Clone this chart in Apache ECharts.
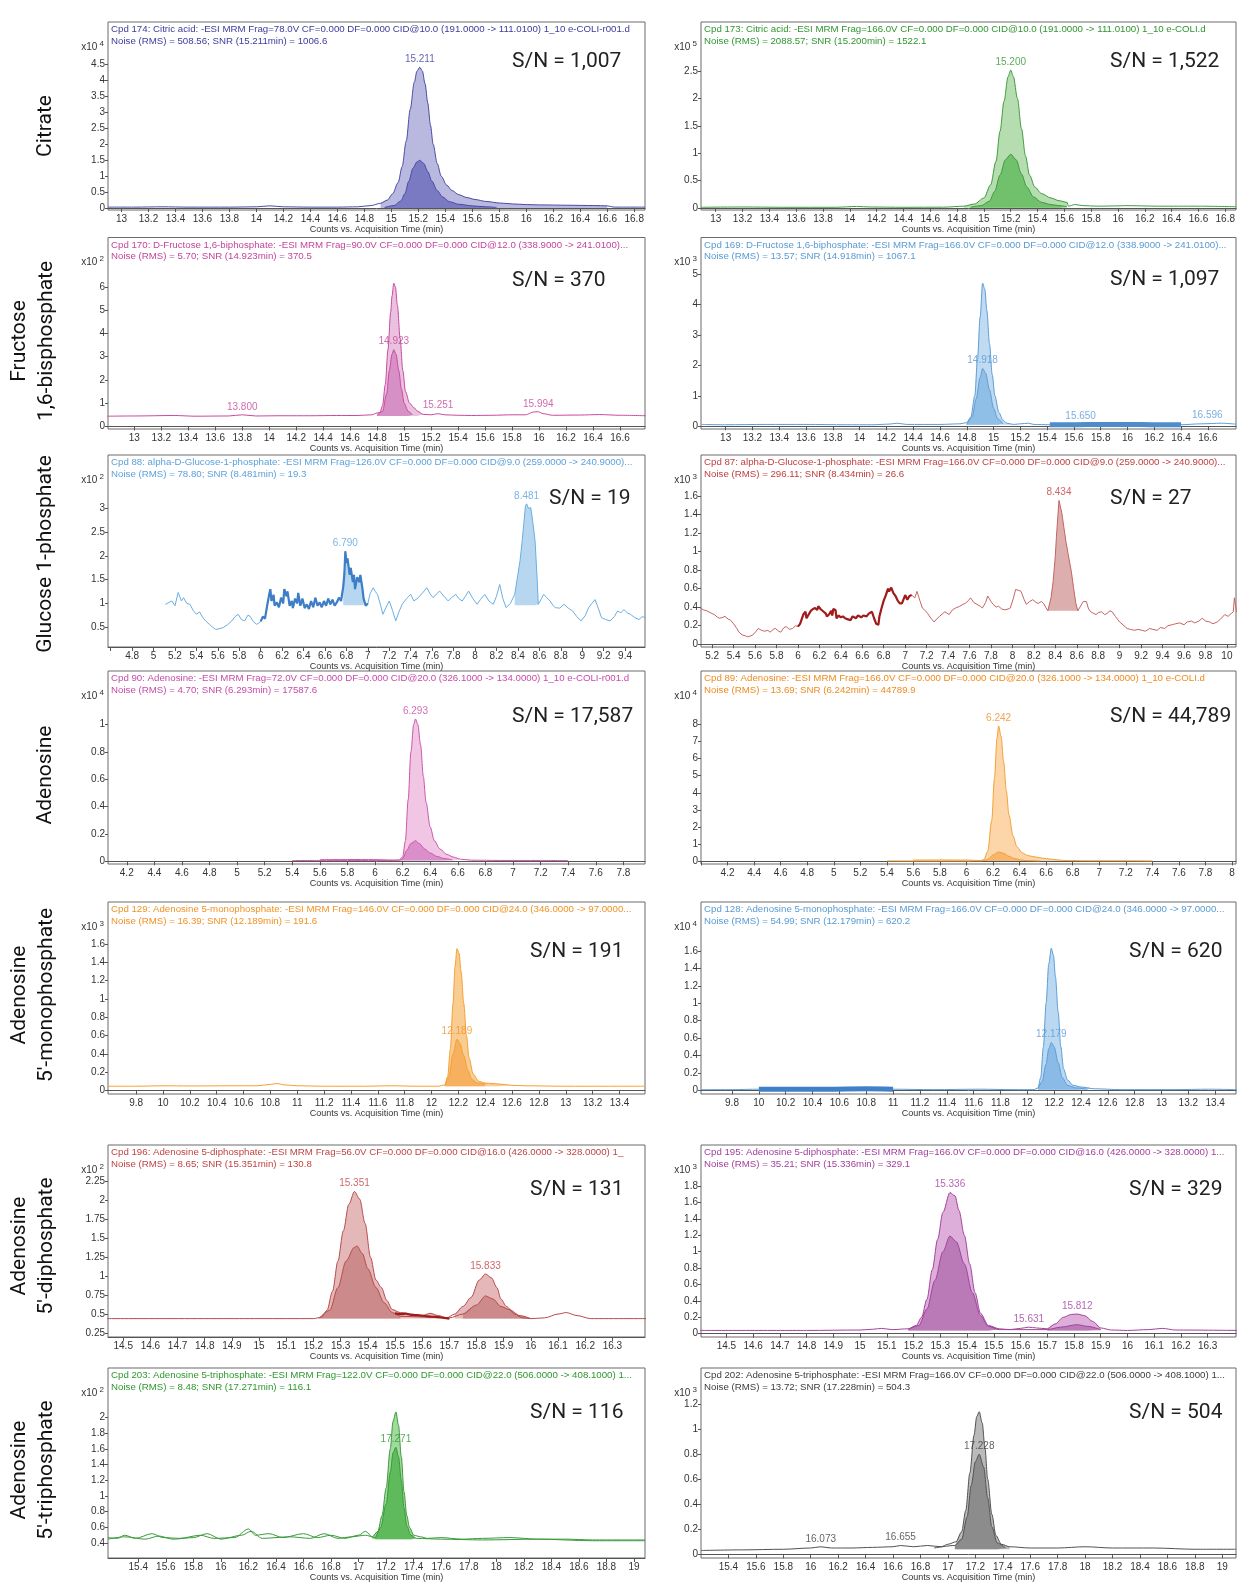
<!DOCTYPE html>
<html>
<head>
<meta charset="utf-8">
<script src="https://cdn.jsdelivr.net/npm/echarts/dist/echarts.min.js"></script>
<style>
  html, body { margin: 0; padding: 0; background: #ffffff; }
  #chart { width: 1241px; height: 1585px; }
</style>
</head>
<body>
<div id="chart"></div>
<script>
// ---------- tick values ----------
const xt_cit = [13,13.2,13.4,13.6,13.8,14,14.2,14.4,14.6,14.8,15,15.2,15.4,15.6,15.8,16,16.2,16.4,16.6,16.8];
const xt_fbp = [13,13.2,13.4,13.6,13.8,14,14.2,14.4,14.6,14.8,15,15.2,15.4,15.6,15.8,16,16.2,16.4,16.6];
const xt_g1pL_marks = [4.6,4.8,5,5.2,5.4,5.6,5.8,6,6.2,6.4,6.6,6.8,7,7.2,7.4,7.6,7.8,8,8.2,8.4,8.6,8.8,9,9.2,9.4];
const xt_g1pL = [4.8,5,5.2,5.4,5.6,5.8,6,6.2,6.4,6.6,6.8,7,7.2,7.4,7.6,7.8,8,8.2,8.4,8.6,8.8,9,9.2,9.4];
const xt_g1pR = [5.2,5.4,5.6,5.8,6,6.2,6.4,6.6,6.8,7,7.2,7.4,7.6,7.8,8,8.2,8.4,8.6,8.8,9,9.2,9.4,9.6,9.8,10];
const xt_adoL = [4.2,4.4,4.6,4.8,5,5.2,5.4,5.6,5.8,6,6.2,6.4,6.6,6.8,7,7.2,7.4,7.6,7.8];
const xt_adoR_marks = [4,4.2,4.4,4.6,4.8,5,5.2,5.4,5.6,5.8,6,6.2,6.4,6.6,6.8,7,7.2,7.4,7.6,7.8,8];
const xt_adoR = [4.2,4.4,4.6,4.8,5,5.2,5.4,5.6,5.8,6,6.2,6.4,6.6,6.8,7,7.2,7.4,7.6,7.8,8];
const xt_amp = [9.8,10,10.2,10.4,10.6,10.8,11,11.2,11.4,11.6,11.8,12,12.2,12.4,12.6,12.8,13,13.2,13.4];
const xt_adp = [14.5,14.6,14.7,14.8,14.9,15,15.1,15.2,15.3,15.4,15.5,15.6,15.7,15.8,15.9,16,16.1,16.2,16.3];
const xt_atp = [15.4,15.6,15.8,16,16.2,16.4,16.6,16.8,17,17.2,17.4,17.6,17.8,18,18.2,18.4,18.6,18.8,19];

const yt_citL = [0,0.5,1,1.5,2,2.5,3,3.5,4,4.5];
const yt_citR = [0,0.5,1,1.5,2,2.5];
const yt_fbpL = [0,1,2,3,4,5,6];
const yt_fbpR = [0,1,2,3,4,5];
const yt_g1pL = [0.5,1,1.5,2,2.5,3];
const yt_g1pR = [0,0.2,0.4,0.6,0.8,1,1.2,1.4,1.6];
const yt_adoL = [0,0.2,0.4,0.6,0.8,1];
const yt_adoR = [0,1,2,3,4,5,6,7,8];
const yt_amp = [0,0.2,0.4,0.6,0.8,1,1.2,1.4,1.6];
const yt_adpL = [0.25,0.5,0.75,1,1.25,1.5,1.75,2,2.25];
const yt_adpR = [0,0.2,0.4,0.6,0.8,1,1.2,1.4,1.6,1.8];
const yt_atpL = [0.4,0.6,0.8,1,1.2,1.4,1.6,1.8,2];
const yt_atpR = [0,0.2,0.4,0.6,0.8,1,1.2];

// ---------- traces: [time (min), counts] ----------
// Citrate, Frag 78 V (x10^4)
const citL_quant = [[12.90,0.03],[13.1,0.03],[13.3,0.04],[13.5,0.03],[13.8,0.03],[14.0,0.04],[14.1,0.07],[14.2,0.04],[14.4,0.03],[14.6,0.03],[14.75,0.04],[14.85,0.08],[14.92,0.15],[14.97,0.25],[15.01,0.45],[15.05,0.8],[15.08,1.3],[15.11,2.1],[15.14,3.1],[15.17,3.95],[15.19,4.3],[15.211,4.42],[15.23,4.3],[15.25,3.9],[15.27,3.3],[15.29,2.6],[15.31,2.0],[15.34,1.4],[15.37,1.0],[15.41,0.72],[15.45,0.55],[15.5,0.42],[15.56,0.33],[15.62,0.27],[15.7,0.21],[15.8,0.16],[15.9,0.13],[16.0,0.11],[16.1,0.1],[16.3,0.09],[16.5,0.08],[16.6,0.07],[16.65,0.03],[16.88,0.03]];
const citL_qual = [[14.95,0.02],[15.02,0.08],[15.07,0.22],[15.1,0.45],[15.13,0.85],[15.16,1.25],[15.19,1.45],[15.211,1.5],[15.24,1.4],[15.27,1.15],[15.3,0.85],[15.34,0.55],[15.38,0.35],[15.43,0.2],[15.5,0.12],[15.6,0.07],[15.7,0.04],[15.78,0.02]];
const citL_peaks = [[15.211,4.42]];
// Citrate, Frag 166 V (x10^5)
const citR_quant = [[12.89,0.01],[13.2,0.015],[13.5,0.01],[13.9,0.01],[14.05,0.025],[14.15,0.015],[14.4,0.01],[14.7,0.012],[14.85,0.03],[14.93,0.07],[15.0,0.18],[15.05,0.42],[15.09,0.85],[15.12,1.4],[15.15,1.95],[15.18,2.4],[15.2,2.52],[15.22,2.4],[15.25,2.0],[15.28,1.45],[15.31,0.95],[15.34,0.6],[15.38,0.38],[15.43,0.26],[15.5,0.18],[15.56,0.13],[15.62,0.1],[15.63,0.03],[15.68,0.06],[15.74,0.04],[15.85,0.03],[16.0,0.035],[16.05,0.04],[16.3,0.03],[16.6,0.03],[16.88,0.02]];
const citR_qual = [[14.9,0.01],[14.98,0.04],[15.04,0.12],[15.08,0.3],[15.12,0.6],[15.16,0.88],[15.2,0.98],[15.24,0.88],[15.28,0.62],[15.32,0.38],[15.37,0.2],[15.43,0.1],[15.5,0.06],[15.56,0.04],[15.62,0.02]];
const citR_peaks = [[15.2,2.52]];

// Fructose 1,6-bisphosphate, Frag 90 V (x10^2)
const fbpL_quant = [[12.8,0.44],[13.0,0.45],[13.3,0.47],[13.45,0.44],[13.7,0.45],[13.8,0.5],[13.9,0.45],[14.1,0.46],[14.3,0.46],[14.5,0.47],[14.65,0.47],[14.76,0.5],[14.8,0.58],[14.82,0.6],[14.84,0.9],[14.86,1.8],[14.88,3.3],[14.9,4.9],[14.91,5.6],[14.923,6.15],[14.935,6.0],[14.95,5.2],[14.97,3.8],[14.99,2.4],[15.01,1.5],[15.04,1.0],[15.07,0.82],[15.1,0.65],[15.14,0.52],[15.2,0.5],[15.251,0.55],[15.3,0.5],[15.4,0.48],[15.5,0.47],[15.65,0.48],[15.8,0.5],[15.9,0.5],[15.96,0.62],[15.994,0.63],[16.03,0.55],[16.1,0.48],[16.3,0.49],[16.45,0.51],[16.6,0.48],[16.79,0.46]];
const fbpL_qual = [[14.8,0.48],[14.84,0.65],[14.87,1.4],[14.89,2.4],[14.91,3.1],[14.923,3.3],[14.94,3.1],[14.96,2.4],[14.98,1.6],[15.0,1.0],[15.03,0.65],[15.06,0.5]];
const fbpL_peaks = [[13.8,0.5],[14.923,3.3],[15.251,0.55],[15.994,0.63]];
// Fructose 1,6-bisphosphate, Frag 166 V (x10^3)
const fbpR_quant = [[12.82,0.06],[13.0,0.05],[13.3,0.06],[13.6,0.06],[13.9,0.05],[14.1,0.05],[14.22,0.07],[14.28,0.1],[14.35,0.06],[14.6,0.06],[14.75,0.08],[14.8,0.12],[14.83,0.3],[14.86,1.0],[14.88,2.2],[14.9,3.6],[14.918,4.7],[14.935,4.5],[14.95,3.8],[14.97,2.7],[14.99,1.7],[15.01,1.0],[15.04,0.45],[15.07,0.2],[15.1,0.1],[15.15,0.06],[15.2,0.08],[15.26,0.1],[15.3,0.06],[15.42,0.05],[15.6,0.05],[15.8,0.06],[16.0,0.06],[16.2,0.05],[16.4,0.05],[16.55,0.08],[16.7,0.1],[16.81,0.07]];
const fbpR_qual = [[14.8,0.06],[14.84,0.3],[14.87,0.9],[14.9,1.6],[14.918,1.9],[14.94,1.75],[14.97,1.2],[15.0,0.6],[15.03,0.25],[15.07,0.08]];
const fbpR_peaks = [[14.918,1.9],[15.65,0.06],[16.596,0.1]];

// Glucose 1-phosphate, Frag 126 V (x10^2)
const g1pL_trace = [[5.11,0.98],[5.17,1.05],[5.2,0.95],[5.23,1.23],[5.26,1.05],[5.28,1.12],[5.31,1.0],[5.34,0.98],[5.37,0.85],[5.40,0.77],[5.43,0.82],[5.46,0.70],[5.49,0.62],[5.52,0.56],[5.55,0.5],[5.58,0.45],[5.62,0.47],[5.65,0.49],[5.69,0.55],[5.73,0.63],[5.76,0.72],[5.79,0.77],[5.82,0.66],[5.85,0.63],[5.88,0.75],[5.90,0.73],[5.93,0.62],[5.96,0.56],[5.98,0.58],[6.0,0.62],[6.02,0.72],[6.04,0.68],[6.06,0.95],[6.08,1.2],[6.09,1.3],[6.1,1.05],[6.12,1.18],[6.13,0.95],[6.15,1.02],[6.17,0.92],[6.19,1.12],[6.21,1.0],[6.22,1.3],[6.24,1.15],[6.25,1.25],[6.27,0.95],[6.29,1.05],[6.3,0.9],[6.32,1.1],[6.34,1.0],[6.35,1.22],[6.37,0.95],[6.39,1.1],[6.41,0.9],[6.43,0.98],[6.45,0.88],[6.47,1.05],[6.49,0.92],[6.51,1.12],[6.53,0.95],[6.55,1.02],[6.57,0.92],[6.59,1.05],[6.61,0.95],[6.63,1.1],[6.65,0.98],[6.67,1.08],[6.69,0.95],[6.71,1.02],[6.73,1.12],[6.75,1.05],[6.77,1.35],[6.78,1.6],[6.79,2.1],[6.8,1.85],[6.81,1.95],[6.83,1.6],[6.84,1.75],[6.86,1.45],[6.87,1.6],[6.88,1.3],[6.9,1.55],[6.92,1.45],[6.93,1.6],[6.95,1.3],[6.96,1.1],[6.98,0.95],[7.0,1.0],[7.02,1.2],[7.05,1.33],[7.07,1.25],[7.09,1.19],[7.12,0.95],[7.14,0.77],[7.17,0.92],[7.20,1.05],[7.23,0.85],[7.26,0.63],[7.29,0.82],[7.32,0.98],[7.36,1.1],[7.40,1.19],[7.43,1.05],[7.47,1.12],[7.51,1.22],[7.55,1.33],[7.58,1.2],[7.61,1.12],[7.64,1.2],[7.67,1.26],[7.71,1.15],[7.75,1.05],[7.78,1.12],[7.82,1.19],[7.85,1.1],[7.88,1.05],[7.91,1.15],[7.94,1.26],[7.98,1.1],[8.02,0.98],[8.05,1.08],[8.09,1.19],[8.13,1.05],[8.17,0.98],[8.2,1.15],[8.23,1.40],[8.26,1.1],[8.29,0.91],[8.33,1.0],[8.37,1.19],[8.40,1.61],[8.42,1.9],[8.44,2.32],[8.46,2.8],[8.47,3.05],[8.481,3.1],[8.5,3.0],[8.52,3.02],[8.54,2.7],[8.56,2.32],[8.58,1.5],[8.59,0.98],[8.62,1.1],[8.64,1.19],[8.67,1.12],[8.70,1.05],[8.73,0.95],[8.75,0.91],[8.79,0.9],[8.83,0.98],[8.87,0.9],[8.91,0.84],[8.95,0.72],[8.99,0.63],[9.03,0.75],[9.06,0.91],[9.09,1.0],[9.12,1.08],[9.15,0.9],[9.18,0.70],[9.22,0.66],[9.26,0.63],[9.3,0.72],[9.33,0.84],[9.36,0.8],[9.39,0.87],[9.42,0.8],[9.45,0.77],[9.49,0.7],[9.53,0.66],[9.56,0.72],[9.59,0.7]];
const g1pL_peaks = [[6.79,2.1],[8.481,3.1]];
// Glucose 1-phosphate, Frag 166 V (x10^3)
const g1pR_trace = [[5.09,0.39],[5.12,0.37],[5.15,0.36],[5.2,0.33],[5.22,0.32],[5.25,0.29],[5.27,0.28],[5.3,0.29],[5.32,0.30],[5.35,0.27],[5.37,0.26],[5.4,0.22],[5.43,0.17],[5.45,0.13],[5.48,0.10],[5.51,0.09],[5.53,0.08],[5.56,0.09],[5.58,0.10],[5.61,0.14],[5.63,0.17],[5.66,0.15],[5.69,0.14],[5.72,0.15],[5.74,0.13],[5.77,0.16],[5.79,0.17],[5.82,0.14],[5.84,0.13],[5.87,0.18],[5.89,0.19],[5.92,0.16],[5.95,0.17],[5.98,0.2],[6.0,0.19],[6.02,0.22],[6.03,0.24],[6.05,0.32],[6.07,0.35],[6.08,0.28],[6.1,0.32],[6.12,0.36],[6.14,0.38],[6.16,0.39],[6.18,0.37],[6.19,0.41],[6.21,0.38],[6.22,0.36],[6.24,0.35],[6.26,0.33],[6.27,0.3],[6.29,0.32],[6.31,0.36],[6.32,0.31],[6.33,0.38],[6.35,0.37],[6.36,0.28],[6.38,0.31],[6.4,0.29],[6.42,0.30],[6.44,0.28],[6.46,0.27],[6.47,0.29],[6.49,0.26],[6.51,0.3],[6.52,0.30],[6.54,0.28],[6.56,0.31],[6.57,0.32],[6.59,0.29],[6.61,0.31],[6.62,0.33],[6.64,0.3],[6.66,0.33],[6.67,0.34],[6.69,0.35],[6.71,0.28],[6.73,0.22],[6.75,0.21],[6.76,0.3],[6.78,0.39],[6.8,0.47],[6.82,0.53],[6.84,0.6],[6.85,0.57],[6.87,0.61],[6.89,0.55],[6.91,0.52],[6.93,0.47],[6.95,0.44],[6.97,0.44],[6.99,0.5],[7.0,0.53],[7.02,0.48],[7.04,0.52],[7.06,0.53],[7.09,0.5],[7.11,0.57],[7.14,0.46],[7.16,0.39],[7.19,0.36],[7.21,0.33],[7.24,0.28],[7.27,0.24],[7.3,0.28],[7.32,0.30],[7.35,0.33],[7.37,0.35],[7.41,0.32],[7.44,0.37],[7.47,0.39],[7.51,0.41],[7.54,0.43],[7.56,0.44],[7.59,0.47],[7.61,0.50],[7.64,0.45],[7.67,0.43],[7.7,0.41],[7.72,0.39],[7.75,0.45],[7.77,0.52],[7.8,0.46],[7.82,0.43],[7.85,0.40],[7.87,0.41],[7.9,0.38],[7.93,0.37],[7.96,0.38],[7.98,0.39],[8.01,0.5],[8.03,0.59],[8.06,0.58],[8.08,0.57],[8.11,0.48],[8.13,0.43],[8.16,0.46],[8.19,0.48],[8.22,0.45],[8.24,0.44],[8.27,0.46],[8.29,0.44],[8.31,0.4],[8.33,0.36],[8.36,0.5],[8.38,0.68],[8.40,0.95],[8.41,1.15],[8.434,1.55],[8.46,1.42],[8.48,1.26],[8.5,1.1],[8.52,0.97],[8.55,0.78],[8.57,0.61],[8.59,0.45],[8.61,0.36],[8.63,0.4],[8.66,0.46],[8.69,0.46],[8.71,0.38],[8.73,0.35],[8.76,0.33],[8.78,0.32],[8.8,0.34],[8.83,0.35],[8.86,0.32],[8.88,0.33],[8.91,0.36],[8.93,0.35],[8.96,0.3],[9.0,0.24],[9.04,0.2],[9.07,0.17],[9.1,0.16],[9.14,0.15],[9.17,0.16],[9.21,0.15],[9.24,0.14],[9.28,0.17],[9.31,0.16],[9.35,0.15],[9.38,0.18],[9.42,0.17],[9.45,0.2],[9.49,0.21],[9.52,0.22],[9.56,0.23],[9.6,0.21],[9.63,0.24],[9.67,0.25],[9.70,0.23],[9.74,0.25],[9.77,0.28],[9.8,0.25],[9.84,0.24],[9.87,0.22],[9.91,0.24],[9.94,0.27],[9.98,0.32],[10.01,0.3],[10.04,0.33],[10.06,0.35],[10.07,0.50],[10.08,0.42],[10.09,0.35]];
const g1pR_peaks = [[8.434,1.55]];

// Adenosine, Frag 72 V (x10^4)
const adoL_quant = [[5.4,0.005],[5.6,0.006],[5.8,0.006],[6.0,0.005],[6.1,0.005],[6.17,0.008],[6.2,0.03],[6.22,0.15],[6.24,0.45],[6.26,0.8],[6.28,1.0],[6.293,1.04],[6.31,1.0],[6.33,0.85],[6.35,0.62],[6.37,0.43],[6.4,0.25],[6.43,0.15],[6.47,0.09],[6.52,0.05],[6.57,0.03],[6.62,0.015],[6.7,0.008],[6.9,0.006],[7.2,0.006],[7.4,0.005]];
const adoL_qual = [[5.6,0.012],[5.8,0.013],[6.0,0.012],[6.18,0.008],[6.2,0.02],[6.23,0.08],[6.26,0.13],[6.293,0.15],[6.32,0.13],[6.36,0.09],[6.4,0.06],[6.45,0.035],[6.5,0.02],[6.56,0.01]];
const adoL_peaks = [[6.293,1.04]];
// Adenosine, Frag 166 V (x10^4)
const adoR_quant = [[5.4,0.03],[5.6,0.03],[6.0,0.03],[6.1,0.04],[6.13,0.1],[6.16,0.6],[6.19,2.4],[6.21,4.8],[6.23,7.2],[6.242,7.9],[6.26,7.3],[6.28,5.8],[6.3,4.1],[6.32,2.7],[6.35,1.5],[6.38,0.85],[6.42,0.5],[6.46,0.35],[6.5,0.28],[6.55,0.22],[6.6,0.17],[6.65,0.12],[6.7,0.08],[6.75,0.05],[6.9,0.04],[7.1,0.04],[7.4,0.03]];
const adoR_qual = [[5.6,0.08],[5.8,0.085],[6.0,0.08],[6.12,0.04],[6.16,0.12],[6.2,0.38],[6.242,0.55],[6.28,0.47],[6.32,0.3],[6.36,0.17],[6.4,0.1],[6.45,0.05],[6.55,0.03]];
const adoR_peaks = [[6.242,7.9]];

// Adenosine 5'-monophosphate, Frag 146 V (x10^3)
const ampL_quant = [[9.59,0.045],[9.8,0.045],[10.0,0.05],[10.2,0.048],[10.5,0.05],[10.7,0.05],[10.8,0.065],[10.85,0.075],[10.9,0.06],[11.0,0.05],[11.2,0.045],[11.5,0.045],[11.7,0.05],[11.9,0.045],[12.05,0.045],[12.1,0.06],[12.12,0.15],[12.14,0.45],[12.16,0.95],[12.175,1.35],[12.189,1.55],[12.205,1.5],[12.22,1.3],[12.24,0.95],[12.26,0.6],[12.28,0.35],[12.31,0.18],[12.35,0.1],[12.4,0.08],[12.45,0.075],[12.5,0.07],[12.6,0.055],[12.7,0.05],[13.0,0.045],[13.3,0.045],[13.59,0.045]];
const ampL_qual = [[12.1,0.05],[12.13,0.15],[12.16,0.4],[12.189,0.56],[12.21,0.52],[12.24,0.38],[12.27,0.22],[12.3,0.12],[12.34,0.08],[12.4,0.07]];
const ampL_peaks = [[12.189,0.56]];
// Adenosine 5'-monophosphate, Frag 166 V (x10^4)
const ampR_quant = [[9.57,0.01],[9.8,0.01],[10.0,0.015],[10.5,0.015],[10.8,0.02],[11.0,0.015],[11.3,0.01],[11.65,0.015],[11.9,0.01],[12.05,0.01],[12.08,0.03],[12.1,0.15],[12.12,0.5],[12.14,1.0],[12.16,1.45],[12.179,1.63],[12.195,1.55],[12.21,1.3],[12.23,0.9],[12.25,0.5],[12.27,0.25],[12.3,0.12],[12.34,0.06],[12.4,0.04],[12.5,0.02],[12.7,0.01],[13.1,0.01],[13.35,0.015],[13.56,0.01]];
const ampR_qual = [[12.08,0.02],[12.11,0.1],[12.14,0.3],[12.16,0.48],[12.179,0.55],[12.2,0.5],[12.23,0.32],[12.26,0.15],[12.3,0.06],[12.36,0.03],[12.45,0.015]];
const ampR_peaks = [[12.179,0.55]];

// Adenosine 5'-diphosphate, Frag 56 V (x10^2)
const adpL_quant = [[14.44,0.44],[15.0,0.44],[15.2,0.44],[15.23,0.46],[15.25,0.55],[15.27,0.8],[15.29,1.2],[15.31,1.6],[15.33,1.95],[15.351,2.12],[15.37,2.02],[15.39,1.7],[15.41,1.25],[15.43,0.95],[15.45,0.85],[15.47,0.68],[15.49,0.56],[15.52,0.52],[15.56,0.5],[15.6,0.48],[15.63,0.51],[15.66,0.48],[15.69,0.45],[15.72,0.5],[15.75,0.6],[15.78,0.72],[15.81,0.95],[15.833,1.03],[15.855,0.98],[15.875,0.85],[15.89,0.7],[15.91,0.6],[15.94,0.5],[15.97,0.45],[16.0,0.44],[16.05,0.45],[16.1,0.5],[16.13,0.52],[16.17,0.48],[16.22,0.44],[16.45,0.44]];
const adpL_qual = [[15.22,0.44],[15.26,0.55],[15.29,0.85],[15.32,1.2],[15.35,1.38],[15.36,1.4],[15.38,1.3],[15.4,1.1],[15.43,0.85],[15.46,0.65],[15.49,0.52],[15.52,0.47],[15.7,0.45],[15.75,0.5],[15.8,0.62],[15.833,0.74],[15.86,0.7],[15.89,0.6],[15.92,0.56],[15.96,0.48],[16.0,0.44]];
const adpL_noise = [[15.5,0.51],[15.52,0.5],[15.54,0.505],[15.56,0.49],[15.58,0.485],[15.6,0.48],[15.62,0.47],[15.64,0.465],[15.66,0.46],[15.68,0.45],[15.7,0.44]];
const adpL_peaks = [[15.351,2.12],[15.833,1.03]];
// Adenosine 5'-diphosphate, Frag 166 V (x10^3)
const adpR_quant = [[14.4,0.04],[14.8,0.04],[15.0,0.045],[15.05,0.055],[15.08,0.065],[15.12,0.05],[15.18,0.06],[15.21,0.1],[15.23,0.2],[15.25,0.42],[15.27,0.78],[15.29,1.15],[15.31,1.48],[15.336,1.72],[15.355,1.68],[15.37,1.5],[15.39,1.2],[15.41,0.85],[15.43,0.5],[15.45,0.25],[15.48,0.1],[15.52,0.06],[15.56,0.05],[15.6,0.065],[15.631,0.08],[15.66,0.07],[15.7,0.06],[15.73,0.12],[15.76,0.2],[15.79,0.235],[15.812,0.24],[15.84,0.22],[15.87,0.15],[15.9,0.07],[15.94,0.045],[16.0,0.04],[16.08,0.05],[16.13,0.065],[16.18,0.045],[16.41,0.04]];
const adpR_qual = [[15.18,0.05],[15.22,0.1],[15.25,0.3],[15.28,0.65],[15.31,1.0],[15.336,1.19],[15.36,1.12],[15.39,0.85],[15.42,0.5],[15.45,0.22],[15.48,0.09],[15.52,0.05],[15.7,0.05],[15.75,0.08],[15.812,0.11],[15.85,0.09],[15.9,0.05]];
const adpR_peaks = [[15.336,1.72],[15.631,0.08],[15.812,0.24]];

// Adenosine 5'-triphosphate, Frag 122 V (x10^2)
const atpL_quant = [[15.18,0.47],[15.25,0.46],[15.3,0.5],[15.38,0.46],[15.5,0.52],[15.58,0.47],[15.7,0.46],[15.85,0.5],[15.95,0.46],[16.1,0.47],[16.2,0.58],[16.25,0.5],[16.35,0.52],[16.45,0.47],[16.6,0.52],[16.7,0.47],[16.8,0.5],[16.9,0.46],[17.0,0.5],[17.05,0.55],[17.1,0.48],[17.14,0.55],[17.17,0.75],[17.2,1.1],[17.23,1.6],[17.25,1.95],[17.271,2.07],[17.29,1.9],[17.31,1.5],[17.33,1.05],[17.35,0.75],[17.37,0.6],[17.4,0.5],[17.45,0.48],[17.5,0.46],[17.6,0.47],[17.75,0.45],[17.9,0.46],[18.1,0.47],[18.3,0.45],[18.5,0.45],[18.7,0.44],[18.9,0.44],[19.08,0.44]];
const atpL_qual = [[15.18,0.45],[15.3,0.48],[15.45,0.45],[15.55,0.49],[15.65,0.45],[15.8,0.47],[15.9,0.52],[16.0,0.45],[16.15,0.5],[16.22,0.55],[16.3,0.46],[16.5,0.48],[16.65,0.46],[16.75,0.52],[16.85,0.46],[16.95,0.48],[17.05,0.5],[17.12,0.47],[17.16,0.6],[17.2,0.9],[17.23,1.3],[17.25,1.55],[17.271,1.62],[17.29,1.5],[17.31,1.2],[17.33,0.85],[17.35,0.62],[17.38,0.5],[17.42,0.46],[17.6,0.45],[17.9,0.44],[18.3,0.45],[18.7,0.43],[19.08,0.43]];
const atpL_peaks = [[17.271,1.62]];
// Adenosine 5'-triphosphate, Frag 166 V (x10^3)
const atpR_quant = [[15.2,0.03],[15.5,0.035],[15.8,0.04],[16.0,0.05],[16.073,0.06],[16.15,0.05],[16.3,0.05],[16.45,0.055],[16.6,0.06],[16.655,0.07],[16.75,0.06],[16.85,0.07],[16.95,0.06],[17.0,0.08],[17.06,0.1],[17.1,0.18],[17.13,0.35],[17.16,0.65],[17.19,0.95],[17.21,1.1],[17.228,1.14],[17.25,1.05],[17.27,0.85],[17.29,0.6],[17.32,0.32],[17.35,0.15],[17.39,0.08],[17.45,0.06],[17.6,0.05],[17.8,0.05],[18.0,0.06],[18.2,0.05],[18.5,0.05],[18.8,0.04],[19.1,0.04]];
const atpR_qual = [[16.9,0.05],[17.05,0.07],[17.1,0.12],[17.14,0.3],[17.17,0.55],[17.2,0.74],[17.228,0.8],[17.26,0.7],[17.29,0.45],[17.32,0.22],[17.36,0.09],[17.42,0.05]];
const atpR_peaks = [[16.073,0.06],[16.655,0.07],[17.228,0.8]];

// ---------- instrument headers ----------
const headers = [
  ["Cpd 174: Citric acid: -ESI MRM Frag=78.0V CF=0.000 DF=0.000 CID@10.0 (191.0000 -> 111.0100) 1_10 e-COLI-r001.d", "Noise (RMS) = 508.56; SNR (15.211min) = 1006.6"],
  ["Cpd 173: Citric acid: -ESI MRM Frag=166.0V CF=0.000 DF=0.000 CID@10.0 (191.0000 -> 111.0100) 1_10 e-COLI.d", "Noise (RMS) = 2088.57; SNR (15.200min) = 1522.1"],
  ["Cpd 170: D-Fructose 1,6-biphosphate: -ESI MRM Frag=90.0V CF=0.000 DF=0.000 CID@12.0 (338.9000 -> 241.0100)...", "Noise (RMS) = 5.70; SNR (14.923min) = 370.5"],
  ["Cpd 169: D-Fructose 1,6-biphosphate: -ESI MRM Frag=166.0V CF=0.000 DF=0.000 CID@12.0 (338.9000 -> 241.0100)...", "Noise (RMS) = 13.57; SNR (14.918min) = 1067.1"],
  ["Cpd 88: alpha-D-Glucose-1-phosphate: -ESI MRM Frag=126.0V CF=0.000 DF=0.000 CID@9.0 (259.0000 -> 240.9000)...", "Noise (RMS) = 78.80; SNR (8.481min) = 19.3"],
  ["Cpd 87: alpha-D-Glucose-1-phosphate: -ESI MRM Frag=166.0V CF=0.000 DF=0.000 CID@9.0 (259.0000 -> 240.9000)...", "Noise (RMS) = 296.11; SNR (8.434min) = 26.6"],
  ["Cpd 90: Adenosine: -ESI MRM Frag=72.0V CF=0.000 DF=0.000 CID@20.0 (326.1000 -> 134.0000) 1_10 e-COLI-r001.d", "Noise (RMS) = 4.70; SNR (6.293min) = 17587.6"],
  ["Cpd 89: Adenosine: -ESI MRM Frag=166.0V CF=0.000 DF=0.000 CID@20.0 (326.1000 -> 134.0000) 1_10 e-COLI.d", "Noise (RMS) = 13.69; SNR (6.242min) = 44789.9"],
  ["Cpd 129: Adenosine 5-monophosphate: -ESI MRM Frag=146.0V CF=0.000 DF=0.000 CID@24.0 (346.0000 -> 97.0000...", "Noise (RMS) = 16.39; SNR (12.189min) = 191.6"],
  ["Cpd 128: Adenosine 5-monophosphate: -ESI MRM Frag=166.0V CF=0.000 DF=0.000 CID@24.0 (346.0000 -> 97.0000...", "Noise (RMS) = 54.99; SNR (12.179min) = 620.2"],
  ["Cpd 196: Adenosine 5-diphosphate: -ESI MRM Frag=56.0V CF=0.000 DF=0.000 CID@16.0 (426.0000 -> 328.0000) 1_", "Noise (RMS) = 8.65; SNR (15.351min) = 130.8"],
  ["Cpd 195: Adenosine 5-diphosphate: -ESI MRM Frag=166.0V CF=0.000 DF=0.000 CID@16.0 (426.0000 -> 328.0000) 1...", "Noise (RMS) = 35.21; SNR (15.336min) = 329.1"],
  ["Cpd 203: Adenosine 5-triphosphate: -ESI MRM Frag=122.0V CF=0.000 DF=0.000 CID@22.0 (506.0000 -> 408.1000) 1...", "Noise (RMS) = 8.48; SNR (17.271min) = 116.1"],
  ["Cpd 202: Adenosine 5-triphosphate: -ESI MRM Frag=166.0V CF=0.000 DF=0.000 CID@22.0 (506.0000 -> 408.1000) 1...", "Noise (RMS) = 13.72; SNR (17.228min) = 504.3"]
];
const snLabels = ["S/N = 1,007","S/N = 1,522","S/N = 370","S/N = 1,097","S/N = 19","S/N = 27","S/N = 17,587","S/N = 44,789","S/N = 191","S/N = 620","S/N = 131","S/N = 329","S/N = 116","S/N = 504"];
const rowLabels = ["Citrate", "Fructose\n1,6-bisphosphate", "Glucose 1-phosphate", "Adenosine", "Adenosine\n5'-monophosphate", "Adenosine\n5'-diphosphate", "Adenosine\n5'-triphosphate"];
const exponents = ["4","5","2","3","2","3","4","4","3","4","2","3","2","3"];

// ---------- layout ----------
const COL_X = [108, 701], COL_W = [537, 535];
const ROW_TOP = [22, 237.5, 455, 671, 902, 1145, 1368];
const ROW_H = [188, 191.5, 192, 193, 192, 192, 190];
const ROW_LABEL_Y = [126, 341, 554, 775, 995, 1246, 1470];
const SN_POS = [[512,61.6],[1110,61.6],[512,281],[1110,280],[549,499],[1110,499],[512,716.5],[1110,716.5],[530,952],[1129,952],[530,1189.5],[1129,1189.5],[530,1413],[1129,1413]];

// per-panel axis ranges, colours and traces
const panels = [
  { x:[12.90,16.88], y:[-0.06,5.84], xt:xt_cit, xl:xt_cit, yt:yt_citL, line:'#4a4aa6', text:'#3c3c9e', base:0, smooth:0.3,
    traces:[{d:citL_quant, fills:[[14.92,16.6]], fc:'#b9b9df'},{d:citL_qual, fills:[[14.95,15.78]], fc:'#7a7ac2'}], peaks:citL_peaks },
  { x:[12.89,16.88], y:[-0.04,3.4], xt:xt_cit, xl:xt_cit, yt:yt_citR, line:'#3e9c3e', text:'#2f962f', base:0, smooth:0.3,
    traces:[{d:citR_quant, fills:[[14.85,15.62]], fc:'#b5ddb0'},{d:citR_qual, fills:[[14.9,15.62]], fc:'#70c06c'}], peaks:citR_peaks },
  { x:[12.805,16.785], y:[-0.11,8.12], xt:xt_fbp, xl:xt_fbp, yt:yt_fbpL, line:'#c84aa0', text:'#c4459c', base:0.45, smooth:0.3,
    traces:[{d:fbpL_quant, fills:[[14.78,15.14]], fc:'#eac2e0'},{d:fbpL_qual, fills:[[14.8,15.06]], fc:'#d690c6'}], peaks:fbpL_peaks },
  { x:[12.816,16.81], y:[-0.09,6.2], xt:xt_fbp, xl:xt_fbp, yt:yt_fbpR, line:'#5d9dd6', text:'#5a9ad4', base:0.05, smooth:0.3,
    traces:[{d:fbpR_quant, fills:[[14.78,15.15]], fc:'#bfdaf1', thick:[15.42,16.4], tc:'#4f8ccc', tw:5},{d:fbpR_qual, fills:[[14.8,15.07]], fc:'#8fbfe7'}], peaks:fbpR_peaks },
  { x:[4.575,9.586], y:[0.08,4.13], xt:xt_g1pL_marks, xl:xt_g1pL, yt:yt_g1pL, line:'#6aaee2', text:'#5ca2dc', base:0.96, smooth:false,
    traces:[{d:g1pL_trace, fills:[[8.37,8.59],[6.77,6.97]], fc:'#b7d7f1', thick:[6.0,7.0], tc:'#3d7ec6', tw:2.2}], peaks:g1pL_peaks },
  { x:[5.096,10.085], y:[-0.03,2.04], xt:xt_g1pR, xl:xt_g1pR, yt:yt_g1pR, line:'#c46464', text:'#c04040', base:0.36, smooth:false,
    traces:[{d:g1pR_trace, fills:[[8.33,8.61]], fc:'#ddaeae', thick:[6.0,7.06], tc:'#a01c1c', tw:2.2}], peaks:g1pR_peaks },
  { x:[4.064,7.957], y:[-0.02,1.39], xt:xt_adoL, xl:xt_adoL, yt:yt_adoL, line:'#cc56aa', text:'#c84aa8', base:0.005, smooth:0.3,
    traces:[{d:adoL_quant, fills:[[6.17,6.62]], fc:'#f0c6e4'},{d:adoL_qual, fills:[[6.18,6.56]], fc:'#da8fca'}], peaks:adoL_peaks },
  { x:[4.0,8.03], y:[-0.15,11.1], xt:xt_adoR_marks, xl:xt_adoR, yt:yt_adoR, line:'#f5a033', text:'#f08c20', base:0.03, smooth:0.3,
    traces:[{d:adoR_quant, fills:[[6.1,6.75]], fc:'#fcd6a8'},{d:adoR_qual, fills:[[6.12,6.55]], fc:'#f8b66c'}], peaks:adoR_peaks },
  { x:[9.59,13.59], y:[-0.04,2.06], xt:xt_amp, xl:xt_amp, yt:yt_amp, line:'#f5a033', text:'#f29224', base:0.045, smooth:0.3,
    traces:[{d:ampL_quant, fills:[[12.1,12.6]], fc:'#f9cc92'},{d:ampL_qual, fills:[[12.1,12.4]], fc:'#f6b060'}], peaks:ampL_peaks },
  { x:[9.569,13.555], y:[-0.04,2.16], xt:xt_amp, xl:xt_amp, yt:yt_amp, line:'#5d9dd6', text:'#5a9ad4', base:0.01, smooth:0.3,
    traces:[{d:ampR_quant, fills:[[12.07,12.5]], fc:'#bad8f1', thick:[10.0,11.0], tc:'#3f80c8', tw:5},{d:ampR_qual, fills:[[12.08,12.45]], fc:'#8abbe6'}], peaks:ampR_peaks },
  { x:[14.444,16.42], y:[0.197,2.735], xt:xt_adp, xl:xt_adp, yt:yt_adpL, line:'#b84a4a', text:'#c04444', base:0.44, smooth:0.3,
    traces:[{d:adpL_quant, fills:[[15.22,15.7],[15.7,16.0]], fc:'#e4b8b8'},{d:adpL_qual, fills:[[15.22,15.52],[15.72,16.0]], fc:'#cd8a8a'},{d:adpL_noise, fills:[], thick:[15.5,15.7], tc:'#a01c1c', tw:2.2}], peaks:adpL_peaks },
  { x:[14.405,16.406], y:[-0.04,2.30], xt:xt_adp, xl:xt_adp, yt:yt_adpR, line:'#a2429c', text:'#a23e9e', base:0.04, smooth:0.3,
    traces:[{d:adpR_quant, fills:[[15.18,15.52],[15.7,15.92]], fc:'#dcaed9'},{d:adpR_qual, fills:[[15.18,15.52],[15.7,15.9]], fc:'#ba7ab8'}], peaks:adpR_peaks },
  { x:[15.18,19.08], y:[0.21,2.63], xt:xt_atp, xl:xt_atp, yt:yt_atpL, line:'#3a9a3a', text:'#2e982e', base:0.45, smooth:0.3,
    traces:[{d:atpL_quant, fills:[[17.1,17.42]], fc:'#a2d99e'},{d:atpL_qual, fills:[[17.12,17.42]], fc:'#5fba5c'}], peaks:atpL_peaks },
  { x:[15.2,19.1], y:[-0.03,1.49], xt:xt_atp, xl:xt_atp, yt:yt_atpR, line:'#525252', text:'#3c3c3c', base:0.04, smooth:0.3,
    traces:[{d:atpR_quant, fills:[[17.05,17.45]], fc:'#bababa'},{d:atpR_qual, fills:[[17.05,17.42]], fc:'#8c8c8c'}], peaks:atpR_peaks }
];

// ---------- option assembly ----------
const within = (arr, a, b) => arr.filter(p => p[0] >= a - 1e-9 && p[0] <= b + 1e-9);
const FONT = '"Liberation Sans", Arial, sans-serif';

const grids = [], xAxes = [], yAxes = [], series = [], graphics = [];

panels.forEach((p, i) => {
  const row = Math.floor(i / 2), col = i % 2;
  const gx = COL_X[col], gy = ROW_TOP[row], gw = COL_W[col], gh = ROW_H[row];
  grids.push({ left: gx, top: gy, width: gw, height: gh, show: true, borderColor: '#6b6b6b', borderWidth: 1, backgroundColor: 'transparent' });
  xAxes.push({
    gridIndex: i, type: 'value', min: p.x[0], max: p.x[1],
    axisLine: { show: true, lineStyle: { color: '#555', width: 1 } },
    axisTick: { show: true, inside: false, length: 4, customValues: p.xt, lineStyle: { color: '#555' } },
    axisLabel: { customValues: p.xl, fontSize: 10, color: '#333', margin: 4, fontFamily: FONT, formatter: v => String(v) },
    splitLine: { show: false },
    name: 'Counts vs. Acquisition Time (min)', nameLocation: 'middle', nameGap: 15,
    nameTextStyle: { fontSize: 9, color: '#333', fontFamily: FONT }
  });
  yAxes.push({
    gridIndex: i, type: 'value', min: p.y[0], max: p.y[1],
    axisLine: { show: false },
    axisTick: { show: true, length: 3, customValues: p.yt, lineStyle: { color: '#555' } },
    axisLabel: { customValues: p.yt, fontSize: 10, color: '#333', margin: 3, fontFamily: FONT, formatter: v => String(v) },
    splitLine: { show: false }
  });

  // integrated peak areas
  p.traces.forEach(t => {
    t.fills.forEach(r => {
      series.push({
        type: 'line', xAxisIndex: i, yAxisIndex: i, data: within(t.d, r[0], r[1]),
        symbol: 'none', smooth: p.smooth, smoothMonotone: 'x', silent: true, z: 1,
        lineStyle: { width: 0 },
        areaStyle: { color: t.fc, opacity: 1, origin: p.base }
      });
    });
  });
  // chromatogram traces
  p.traces.forEach(t => {
    series.push({
      type: 'line', xAxisIndex: i, yAxisIndex: i, data: t.d,
      symbol: 'none', smooth: p.smooth, smoothMonotone: 'x', silent: true, z: 2,
      lineStyle: { color: p.line, width: 1 }
    });
    if (t.thick) {
      series.push({
        type: 'line', xAxisIndex: i, yAxisIndex: i, data: within(t.d, t.thick[0], t.thick[1]),
        symbol: 'none', smooth: p.smooth, smoothMonotone: 'x', silent: true, z: 3,
        lineStyle: { color: t.tc, width: t.tw }
      });
    }
  });
  // retention-time labels
  series.push({
    type: 'scatter', xAxisIndex: i, yAxisIndex: i, data: p.peaks, symbolSize: 2, z: 5, silent: true,
    itemStyle: { color: 'rgba(0,0,0,0)' },
    label: { show: true, position: 'top', distance: 2, fontSize: 10, fontFamily: FONT, color: p.text,
      formatter: d => d.value[0].toFixed(3) }
  });

  // header lines, exponent, S/N
  graphics.push({ type: 'text', x: gx + 3, y: gy + 2, silent: true,
    style: { text: headers[i][0] + '\n' + headers[i][1], font: '9.7px ' + FONT, fill: p.text, lineHeight: 11.5 } });
  graphics.push({ type: 'text', x: gx - 4, y: gy + 25, silent: true,
    style: { text: '{a|x10}{b| ' + exponents[i] + '}', textAlign: 'right', textVerticalAlign: 'middle',
      rich: { a: { fontSize: 10, fontFamily: FONT, fill: '#333' }, b: { fontSize: 8, fontFamily: FONT, fill: '#333', padding: [0,0,7,0] } } } });
  graphics.push({ type: 'text', x: SN_POS[i][0], y: SN_POS[i][1], silent: true,
    style: { text: snLabels[i], font: '21px Roboto', fill: '#222', textVerticalAlign: 'middle' } });
});

// compound names down the left side
rowLabels.forEach((t, r) => {
  const twoLines = t.indexOf('\n') >= 0;
  graphics.push({ type: 'text', x: twoLines ? 33 : 46, y: ROW_LABEL_Y[r], rotation: Math.PI / 2, silent: true,
    style: { text: t, font: '21px Roboto', fill: '#111', textAlign: 'center', textVerticalAlign: 'middle', lineHeight: 27 } });
});

const chart = echarts.init(document.getElementById('chart'), null, { renderer: 'canvas' });
chart.setOption({
  animation: false,
  backgroundColor: '#ffffff',
  grid: grids, xAxis: xAxes, yAxis: yAxes, series: series, graphic: graphics
});
</script>
</body>
</html>
